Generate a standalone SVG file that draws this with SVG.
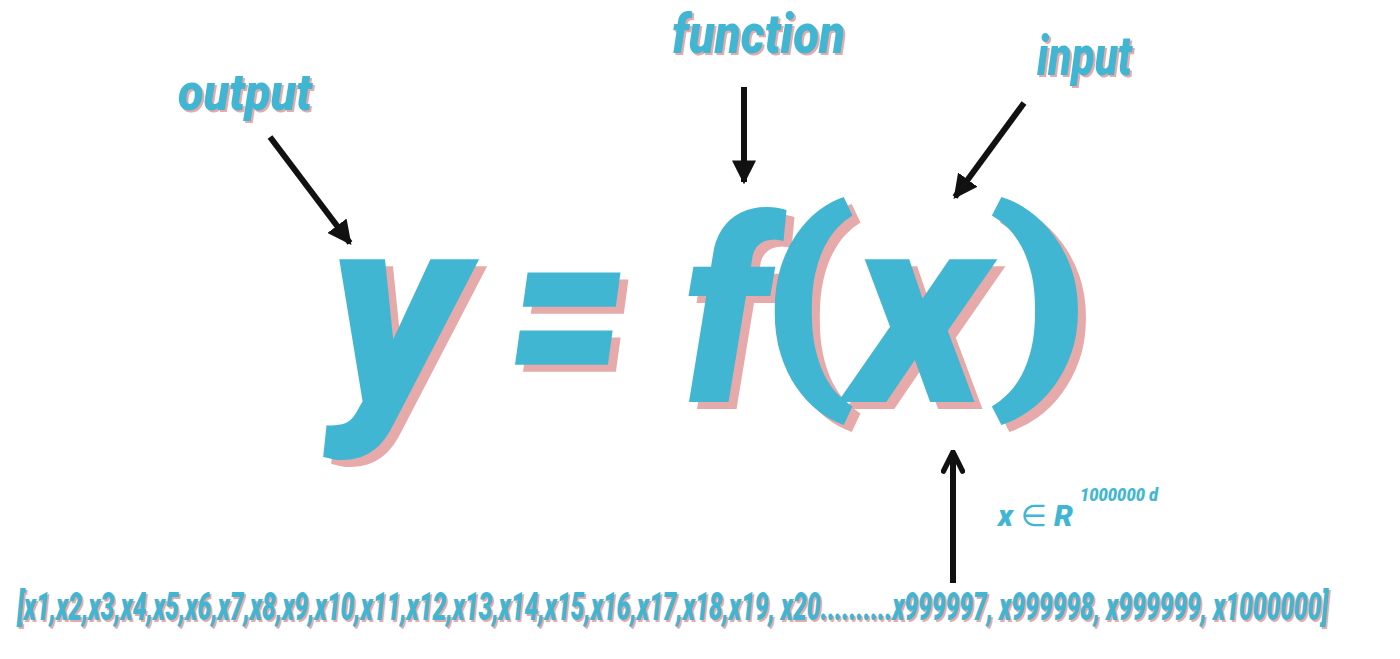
<svg xmlns="http://www.w3.org/2000/svg" width="1400" height="659" viewBox="0 0 1400 659">
<defs>
<style>
.t{font-family:"Roboto","Liberation Sans",sans-serif;font-style:italic;font-weight:900;}
.u{font-family:"Roboto","Liberation Sans",sans-serif;font-style:normal;font-weight:900;}
.b{fill:#41b6d3;}
.p{fill:#e5aaa9;}
.arr{stroke:#111;stroke-width:6;fill:none;}
</style>
<marker id="ah" viewBox="0 0 10 10" refX="9" refY="5" markerWidth="4" markerHeight="4" orient="auto" markerUnits="strokeWidth">
<path d="M0,0 L10,5 L0,10 z" fill="#111"/>
</marker>
<marker id="ch" viewBox="0 0 10 10" refX="9" refY="5" markerWidth="4" markerHeight="4" orient="auto" markerUnits="strokeWidth">
<path d="M1,1 L9,5 L1,9" fill="none" stroke="#111" stroke-width="2.2" stroke-linecap="round" stroke-linejoin="round"/>
</marker>
</defs>
<rect width="1400" height="659" fill="#fff"/>

<g id="equation">
<g class="t p" font-size="270">
<text x="336" y="409" textLength="138" lengthAdjust="spacingAndGlyphs">y</text>
<text x="516" y="409" textLength="120" lengthAdjust="spacingAndGlyphs">=</text>
<text x="858" y="409" textLength="138" lengthAdjust="spacingAndGlyphs">x</text>
</g>
<text class="t p" font-size="255" x="690" y="409" textLength="86" lengthAdjust="spacingAndGlyphs">f</text>
<g class="u p" font-size="227">
<text x="766" y="382" textLength="100" lengthAdjust="spacingAndGlyphs">(</text>
<text x="994" y="382" textLength="106" lengthAdjust="spacingAndGlyphs">)</text>
</g>
<g class="t b" font-size="270">
<text id="y" x="328" y="402" textLength="138" lengthAdjust="spacingAndGlyphs">y</text>
<text id="eq" x="508" y="402" textLength="120" lengthAdjust="spacingAndGlyphs">=</text>
<text id="x" x="850" y="402" textLength="138" lengthAdjust="spacingAndGlyphs">x</text>
</g>
<text id="f" class="t b" font-size="255" x="682" y="402" textLength="86" lengthAdjust="spacingAndGlyphs">f</text>
<g class="u b" font-size="227">
<text x="758" y="375" textLength="100" lengthAdjust="spacingAndGlyphs">(</text>
<text x="986" y="375" textLength="106" lengthAdjust="spacingAndGlyphs">)</text>
</g>
</g>

<g id="output">
<text class="t p" x="180" y="112" font-size="52" textLength="134" lengthAdjust="spacingAndGlyphs">output</text>
<text class="t b" x="178" y="110" font-size="52" textLength="134" lengthAdjust="spacingAndGlyphs">output</text>
</g>
<g id="function">
<text class="t p" x="674" y="55" font-size="56" textLength="173" lengthAdjust="spacingAndGlyphs">function</text>
<text class="t b" x="672" y="53" font-size="56" textLength="173" lengthAdjust="spacingAndGlyphs">function</text>
</g>
<g id="input">
<text class="t p" x="1039" y="77" font-size="56" textLength="95" lengthAdjust="spacingAndGlyphs">input</text>
<text class="t b" x="1037" y="75" font-size="56" textLength="95" lengthAdjust="spacingAndGlyphs">input</text>
</g>
<g id="domain">
<text class="t b" x="998" y="526" font-size="30">x <tspan font-weight="400" font-style="normal" font-family="DejaVu Sans, sans-serif">∈</tspan> R</text>
<text class="t b" x="1080" y="501" font-size="19" textLength="78" lengthAdjust="spacingAndGlyphs">1000000 d</text>
</g>
<g id="vector">
<text class="t p" x="19" y="622" font-size="38" textLength="1311" lengthAdjust="spacingAndGlyphs">[x1,x2,x3,x4,x5,x6,x7,x8,x9,x10,x11,x12,x13,x14,x15,x16,x17,x18,x19, x20..........x999997, x999998, x999999, x1000000]</text>
<text class="t b" x="17" y="620" font-size="38" textLength="1311" lengthAdjust="spacingAndGlyphs">[x1,x2,x3,x4,x5,x6,x7,x8,x9,x10,x11,x12,x13,x14,x15,x16,x17,x18,x19, x20..........x999997, x999998, x999999, x1000000]</text>
</g>

<g id="connectors">
<line class="arr" x1="270" y1="137" x2="350" y2="243" marker-end="url(#ah)"/>
<line class="arr" x1="744" y1="87" x2="744" y2="182" marker-end="url(#ah)"/>
<line class="arr" x1="1024" y1="103" x2="955" y2="197" marker-end="url(#ah)"/>
<line class="arr" x1="953" y1="583" x2="953" y2="452" marker-end="url(#ch)"/>
</g>
</svg>
